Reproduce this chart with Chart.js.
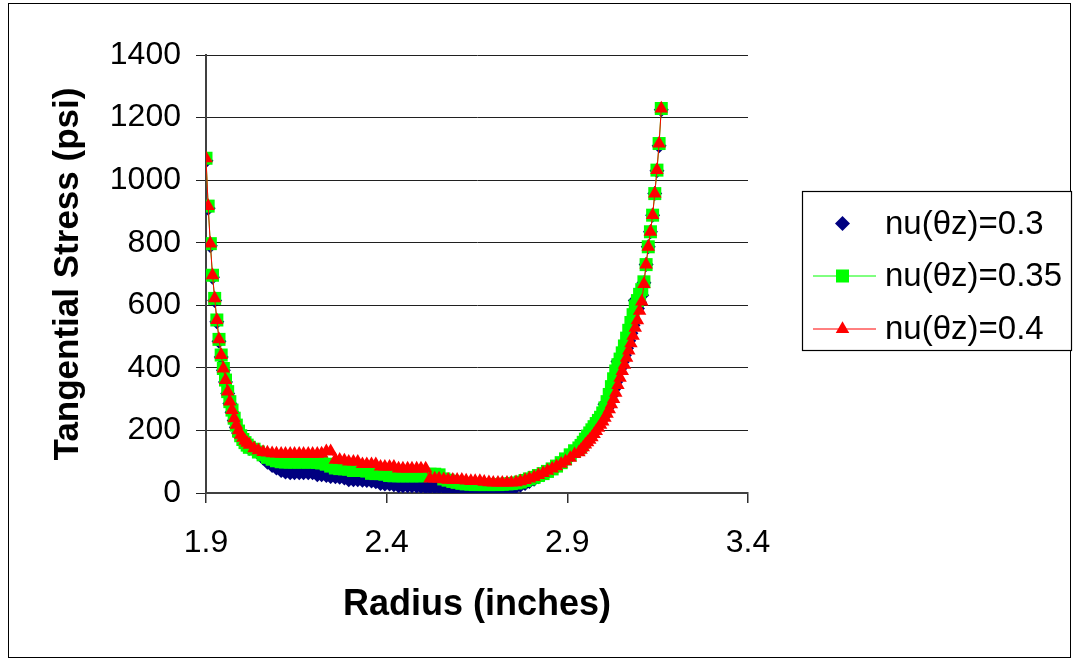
<!DOCTYPE html>
<html>
<head>
<meta charset="utf-8">
<script src="https://cdn.jsdelivr.net/npm/chart.js@4.4.0/dist/chart.umd.min.js"></script>
<style>
  html, body { margin: 0; padding: 0; background: #ffffff; }
  #wrap { width: 1075px; height: 661px; position: relative; }
</style>
</head>
<body>
<div id="wrap"><canvas id="c" width="1075" height="661"></canvas></div>
<script>
// ---- data ----
const radius = [
  1.900,1.906,1.912,1.918,1.924,1.930,1.936,1.942,1.948,1.954,1.960,1.966,1.972,1.978,1.984,1.990,1.996,2.002,2.008,2.014,2.020,
  2.033,2.045,2.058,2.070,2.083,2.095,2.108,2.120,2.133,2.145,2.158,2.170,2.183,2.195,2.208,2.220,2.233,2.245,2.258,2.270,
  2.283,2.295,2.308,2.320,2.333,2.345,2.358,2.370,2.383,2.395,2.408,2.420,2.433,2.445,2.458,2.470,2.483,2.495,2.508,2.520,
  2.533,2.545,2.558,2.570,2.583,2.595,2.608,2.620,2.633,2.645,2.658,2.670,2.683,2.695,2.708,2.720,2.733,2.745,2.758,2.770,
  2.783,2.795,2.808,2.820,2.833,2.845,2.858,2.870,2.883,2.895,2.908,2.920,
  2.932,2.938,2.944,2.950,2.956,2.962,2.968,2.974,2.980,2.986,2.992,2.998,3.004,3.010,3.016,3.022,3.028,3.034,3.040,3.046,
  3.052,3.058,3.064,3.070,3.076,3.082,3.088,3.094,3.100,3.106,3.112,3.118,3.124,3.130,3.136,3.142,3.148,3.154,3.160
];

const stressNu030 = [
  1062,910,790,690,615,547,485,435,392,355,318,286,258,232,210,192,178,167,158,150,143,
  140,128,112,98,88,80,72,67,65,65,65,65,65,65,58,58,56,53,52,50,
  48,42,42,42,41,40,38,36,30,29,29,26,23,23,23,23,22,21,19,19,
  19,19,18,14,10,9,9,5,3,2,2,2,2,2,3,6,11,15,20,25,
  30,37,44,52,58,66,75,84,95,105,117,129,
  137,145,154,163,172,181,190,200,210,220,230,242,284,272,291,311,332,355,420,398,
  419,440,463,487,511,536,615,590,610,632,672,730,787,835,888,957,1030,1110,1225
];

const stressNu035 = [
  1070,917,797,696,622,553,491,441,398,361,324,292,265,239,217,198,183,171,161,153,146,
  140,131,122,114,108,103,100,99,99,99,99,99,99,99,98,96,92,86,80,78,
  77,76,72,72,72,70,63,62,62,60,56,55,55,55,55,55,55,55,57,60,
  60,58,45,41,37,34,31,29,28,27,27,27,27,27,27,28,29,30,32,35,
  40,45,50,56,62,69,77,86,97,109,122,135,
  144,152,162,172,182,192,202,212,222,232,242,256,272,292,315,340,365,390,410,428,
  448,470,495,520,545,570,598,615,635,650,675,730,787,835,888,957,1032,1117,1229
];

const stressNu040 = [
  1070,917,797,696,622,553,491,441,398,361,324,292,265,239,218,200,186,176,167,160,154,
  143,136,131,129,127,126,125,125,125,125,125,125,125,125,125,126,133,133,106,106,
  104,100,100,100,92,92,92,92,84,84,84,84,78,78,78,78,78,78,78,46,
  46,46,44,42,42,42,42,40,38,38,38,36,34,33,33,33,33,33,34,37,
  41,46,51,57,64,71,78,85,93,101,112,124,
  130,138,146,155,162,170,178,188,198,208,218,228,240,253,267,283,300,320,345,368,
  390,410,432,455,478,502,528,552,582,612,668,730,787,835,888,957,1032,1117,1229
];

const seriesNames = ['nu(\u03b8z)=0.3', 'nu(\u03b8z)=0.35', 'nu(\u03b8z)=0.4'];
const xTickValues = [1.9, 2.4, 2.9, 3.4];
const yTickValues = [0, 200, 400, 600, 800, 1000, 1200, 1400];
const xTitle = 'Radius (inches)';
const yTitle = 'Tangential Stress (psi)';

// ---- build ----
const toPts = vals => radius.map((r, i) => ({ x: r, y: vals[i] }));
const FONT = 'Arial, "Liberation Sans", sans-serif';

const styles = [
  { color: '#000080', style: 'rectRot', r: 7.5, line: false },
  { color: '#00ff00', style: 'rect', r: 9.2, line: true },
  { color: '#ff0000', style: 'triangle', r: 7.8, line: true }
];
const allVals = [stressNu030, stressNu035, stressNu040];

const datasets = allVals.map((vals, i) => ({
  label: seriesNames[i],
  data: toPts(vals),
  showLine: styles[i].line,
  borderColor: styles[i].color,
  borderWidth: 1,
  backgroundColor: styles[i].color,
  pointStyle: styles[i].style,
  pointRadius: styles[i].r,
  pointHoverRadius: styles[i].r,
  pointBorderWidth: 0,
  pointBackgroundColor: styles[i].color,
  order: 3 - i
}));

const frameAndLegend = {
  id: 'frameAndLegend',
  beforeDraw(chart) {
    const ctx = chart.ctx;
    ctx.save();
    ctx.fillStyle = '#ffffff';
    ctx.fillRect(0, 0, chart.width, chart.height);
    ctx.restore();
  },
  afterDraw(chart) {
    const ctx = chart.ctx;
    ctx.save();
    // outer chart border
    ctx.strokeStyle = '#000000';
    ctx.lineWidth = 1;
    ctx.strokeRect(8.5, 3.5, 1062, 654);
    // legend box
    const bx = 802.5, by = 191.5, bw = 269, bh = 159;
    ctx.fillStyle = '#ffffff';
    ctx.fillRect(bx, by, bw, bh);
    ctx.strokeStyle = '#000000';
    ctx.lineWidth = 1.2;
    ctx.strokeRect(bx, by, bw, bh);
    const rows = [223.5, 276, 329];
    rows.forEach((ry, i) => {
      const st = styles[i];
      if (st.line) {
        ctx.strokeStyle = st.color;
        ctx.lineWidth = 1;
        ctx.beginPath();
        ctx.moveTo(813, ry);
        ctx.lineTo(876, ry);
        ctx.stroke();
      }
      ctx.fillStyle = st.color;
      Chart.helpers.drawPoint(ctx, {
        pointStyle: st.style, radius: st.r, rotation: 0, borderWidth: 0
      }, 842.5, ry);
      ctx.fillStyle = '#000000';
      ctx.font = '33px ' + FONT;
      ctx.textAlign = 'left';
      ctx.textBaseline = 'middle';
      ctx.fillText(seriesNames[i], 885, ry + 1);
    });
    ctx.restore();
  }
};

new Chart(document.getElementById('c'), {
  type: 'scatter',
  data: { datasets },
  options: {
    responsive: false,
    animation: false,
    devicePixelRatio: 1,
    layout: { padding: { left: 0, top: 55, right: 327, bottom: 0 } },
    plugins: { legend: { display: false }, tooltip: { enabled: false } },
    scales: {
      x: {
        type: 'linear',
        min: 1.9, max: 3.4,
        afterBuildTicks: s => { s.ticks = xTickValues.map(v => ({ value: v })); },
        afterFit: s => { s.height = 661 - 493; },
        grid: { drawOnChartArea: false, drawTicks: true, tickLength: 10, color: '#303030', lineWidth: 1.5 },
        border: { display: true, color: '#404040', width: 2 },
        ticks: {
          padding: 21, color: '#000000',
          font: { family: FONT, size: 32 },
          callback: v => Number(v).toFixed(1),
          maxRotation: 0, autoSkip: false
        },
        title: {
          display: true, text: xTitle, color: '#000000',
          font: { family: FONT, size: 36, weight: 'bold' },
          padding: { top: 0, bottom: 34 }
        }
      },
      y: {
        type: 'linear',
        min: 0, max: 1400,
        afterBuildTicks: s => { s.ticks = yTickValues.map(v => ({ value: v })); },
        afterFit: s => { s.width = 206; },
        grid: { color: '#202020', lineWidth: 1, tickLength: 10, drawTicks: true },
        border: { display: true, color: '#404040', width: 2 },
        ticks: {
          padding: 15, color: '#000000',
          font: { family: FONT, size: 32 },
          callback: v => String(v)
        },
        title: {
          display: true, text: yTitle, color: '#000000',
          font: { family: FONT, size: 35, weight: 'bold' },
          padding: { top: 47, bottom: 0 }
        }
      }
    }
  },
  plugins: [frameAndLegend]
});
</script>
</body>
</html>
